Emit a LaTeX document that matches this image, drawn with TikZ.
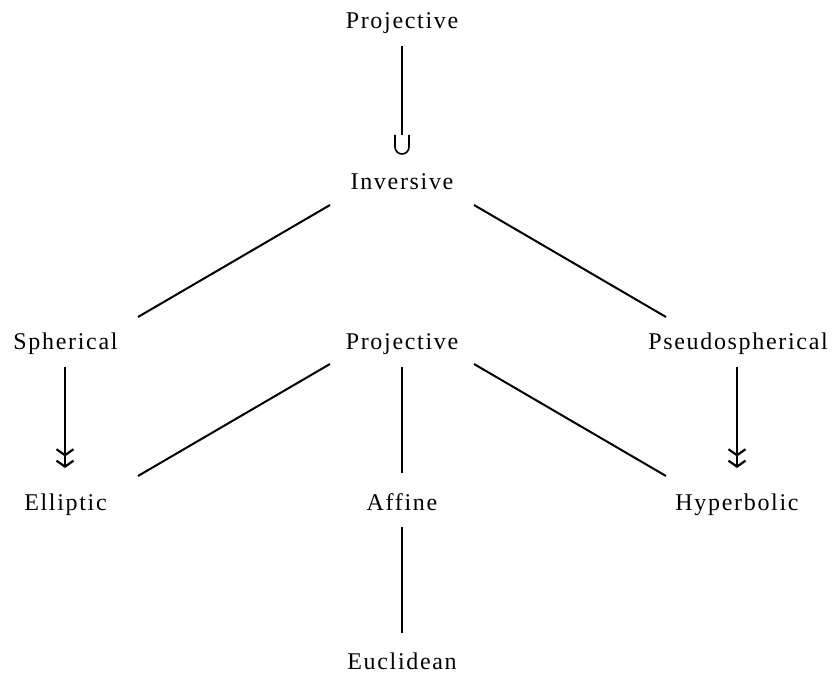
\documentclass[tikz,border=0pt]{standalone}
\usepackage{fontspec}
\setmainfont{Liberation Serif}[LetterSpace=7]
\usetikzlibrary{arrows.meta}
\begin{document}
\begin{tikzpicture}[x=1bp,y=-1bp,
  lbl/.style={anchor=base,inner sep=0pt,font=\fontsize{24bp}{28bp}\selectfont},
  conn/.style={line width=2bp},
  surj/.style={conn,-{Straight Barb[length=6bp,width=17bp,line width=2.2bp,sep=3bp]Straight Barb[length=6bp,width=17bp,line width=2.2bp]}}]
\useasboundingbox (0,0) rectangle (835,675);
% nodes
\node[lbl] (P0) at (402,29) {Projective};
\node[lbl] (Inv) at (402,189) {Inversive};
\node[lbl] (Sph) at (65.5,349) {Spherical};
\node[lbl] (P1) at (402,349) {Projective};
\node[lbl] (Pse) at (738,349) {Pseudospherical};
\node[lbl] (Ell) at (65.5,510) {Elliptic};
\node[lbl] (Aff) at (402,510) {Affine};
\node[lbl] (Hyp) at (737,510) {Hyperbolic};
\node[lbl] (Euc) at (402,669) {Euclidean};
% connector end points
\coordinate (a1) at (402,46);
\coordinate (a2) at (402,135);
\coordinate (b1) at (330,205); \coordinate (b2) at (138,317);
\coordinate (c1) at (474,205); \coordinate (c2) at (666,317);
\coordinate (d1) at (65,367); \coordinate (d2) at (65,468);
\coordinate (e1) at (737,367); \coordinate (e2) at (737,468);
\coordinate (f1) at (330,364); \coordinate (f2) at (138,476);
\coordinate (g1) at (474,364); \coordinate (g2) at (666,476);
\coordinate (h1) at (402,367); \coordinate (h2) at (402,473);
\coordinate (i1) at (402,527); \coordinate (i2) at (402,633);
% connectors
\draw[conn] (a1) -- (a2);
\draw[line width=1.6bp] ([xshift=-7bp]a2) -- ++(0,12) arc[start angle=180,end angle=360,radius=7bp] -- ++(0,-12);
\draw[conn] (b1) -- (b2);
\draw[conn] (c1) -- (c2);
\draw[surj] (d1) -- (d2);
\draw[surj] (e1) -- (e2);
\draw[conn] (f1) -- (f2);
\draw[conn] (g1) -- (g2);
\draw[conn] (h1) -- (h2);
\draw[conn] (i1) -- (i2);
\end{tikzpicture}
\end{document}
